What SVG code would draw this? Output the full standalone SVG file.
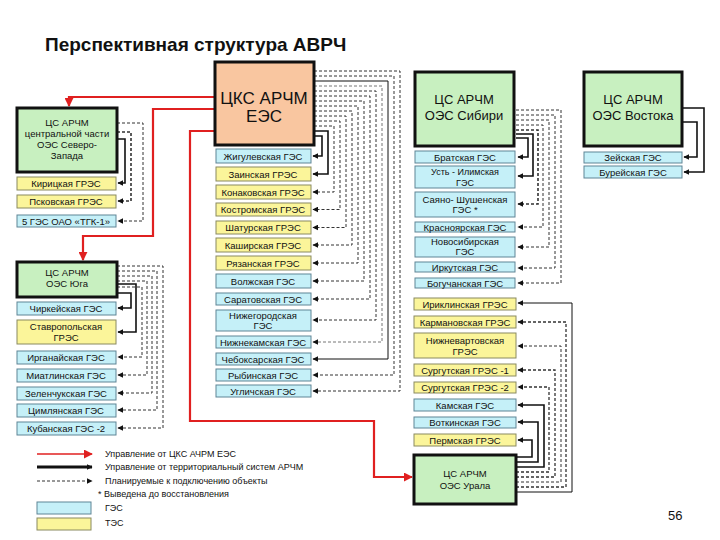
<svg xmlns="http://www.w3.org/2000/svg" width="720" height="540" viewBox="0 0 720 540">
<style>
text{font-family:"Liberation Sans",Arial,sans-serif;fill:#111}
.t{font-size:9.5px;text-anchor:middle}
.p{font-size:12px;text-anchor:middle}
.g{fill:#c5f0f8;stroke:#5f8596;stroke-width:1}
.y{fill:#fbf59a;stroke:#8a8a60;stroke-width:1}
.par{fill:#c8f0c0;stroke:#111;stroke-width:3}
.s{fill:none;stroke:#111;stroke-width:1.6;marker-end:url(#ah)}
.d{fill:none;stroke:#333;stroke-width:1;stroke-dasharray:3 2;marker-end:url(#ah)}
.r{fill:none;stroke:#e02020;stroke-width:2.2;marker-end:url(#ar)}
.lg{font-size:9px}
</style>
<defs>
<marker id="ah" viewBox="0 0 10 10" refX="9" refY="5" markerWidth="6" markerHeight="6" markerUnits="userSpaceOnUse" orient="auto"><path d="M0,0L10,5L0,10z" fill="#111"/></marker>
<marker id="ar" viewBox="0 0 10 10" refX="9" refY="5" markerWidth="9" markerHeight="9" markerUnits="userSpaceOnUse" orient="auto"><path d="M0,0L10,5L0,10z" fill="#e02020"/></marker>
</defs>
<rect width="720" height="540" fill="#fff"/>
<text x="45" y="51" style="font-size:19px;font-weight:bold">Перспективная структура АВРЧ</text>

<g id="connectors">
<path class="r" d="M215,97H69V106"/>
<path class="r" d="M215,109H153V236H83V260"/>
<path class="r" d="M215,131H190V421H374V477H412"/>
<path class="s" d="M314,136H322V156H313"/>
<path class="s" d="M314,131H328V174H313"/>
<path class="d" d="M314,126H334V192H313"/>
<path class="d" d="M314,121H340V209.5H313"/>
<path class="d" d="M314,116H346V227.5H313"/>
<path class="d" d="M314,111H352V245H313"/>
<path class="d" d="M314,106H358V263H313"/>
<path class="d" d="M314,101H364V281H313"/>
<path class="d" d="M314,96H370V299H313"/>
<path class="d" d="M314,91H376V320H313"/>
<path class="d" d="M314,86H382V342H313" style="stroke:#777"/>
<path class="s" d="M314,81H388V359H313" style="stroke-width:1"/>
<path class="d" d="M314,76H394V375H313"/>
<path class="d" d="M314,71H400V391H313"/>
<path class="s" d="M117,139H125V183H118"/>
<path class="d" d="M117,132H131V201H118" style="stroke-width:1.6"/>
<path class="d" d="M117,123H143V221H118"/>
<path class="s" d="M117,293H131V308H118"/>
<path class="s" d="M117,284H136V332H118"/>
<path class="d" d="M117,287H142V357H118"/>
<path class="d" d="M117,281H147V375H118"/>
<path class="d" d="M117,276H152V393H118"/>
<path class="d" d="M117,271H157V410H118"/>
<path class="d" d="M117,266H163V428H118"/>
<path class="s" d="M516,138H528V157H518"/>
<path class="s" d="M516,134H533V176H518"/>
<path class="d" d="M516,130H538V204H518" style="stroke-width:1.6"/>
<path class="d" d="M516,125H543V227H518"/>
<path class="d" d="M516,120H549V247H518"/>
<path class="d" d="M516,115H555V268H518"/>
<path class="d" d="M516,110H561V283H518"/>
<path class="s" d="M682,122H697V157H684"/>
<path class="s" d="M682,108H704V172H684"/>
<path class="s" d="M516,457H532V440H518"/>
<path class="s" d="M516,462H538V422H518"/>
<path class="s" d="M516,467H544V405H518"/>
<path class="d" d="M516,472H549V387H518" style="stroke-width:1.3"/>
<path class="d" d="M516,477H555V370H518" style="stroke-width:1.3"/>
<path class="d" d="M516,482H561V346H518"/>
<path class="d" d="M516,487H566V322H518" style="stroke-width:1.3"/>
<path class="s" d="M516,492H572V303H518" style="stroke-width:1"/>
</g>

<g id="ckc"><rect x="215" y="62" width="99" height="83" fill="#f9c6a0" stroke="#111" stroke-width="3"/><text x="264" y="104" style="font-size:17px;text-anchor:middle">ЦКС АРЧМ</text><text x="264" y="122" style="font-size:17px;text-anchor:middle">ЕЭС</text></g>

<g id="middle">
<g id="m0"><rect class="g" x="216" y="149" width="95" height="14"/><text class="t" x="263" y="160">Жигулевская ГЭС</text></g>
<g id="m1"><rect class="y" x="216" y="167" width="95" height="14"/><text class="t" x="263" y="178">Заинская ГРЭС</text></g>
<g id="m2"><rect class="y" x="216" y="185" width="95" height="14"/><text class="t" x="263" y="196">Конаковская ГРЭС</text></g>
<g id="m3"><rect class="y" x="216" y="203" width="95" height="13"/><text class="t" x="263" y="213">Костромская ГРЭС</text></g>
<g id="m4"><rect class="y" x="216" y="221" width="95" height="13"/><text class="t" x="263" y="231">Шатурская ГРЭС</text></g>
<g id="m5"><rect class="y" x="216" y="238" width="95" height="14"/><text class="t" x="263" y="249">Каширская ГРЭС</text></g>
<g id="m6"><rect class="y" x="216" y="256" width="95" height="14"/><text class="t" x="263" y="267">Рязанская ГРЭС</text></g>
<g id="m7"><rect class="g" x="216" y="274" width="95" height="14"/><text class="t" x="263" y="285">Волжская ГЭС</text></g>
<g id="m8"><rect class="g" x="216" y="293" width="95" height="12"/><text class="t" x="263" y="303">Саратовская ГЭС</text></g>
<g id="m9"><rect class="g" x="216" y="310" width="95" height="21"/><text class="t" x="263" y="319">Нижегородская</text><text class="t" x="263" y="329">ГЭС</text></g>
<g id="m10"><rect class="g" x="216" y="336" width="95" height="12"/><text class="t" x="263" y="346">Нижнекамская ГЭС</text></g>
<g id="m11"><rect class="g" x="216" y="353" width="95" height="12"/><text class="t" x="263" y="363">Чебоксарская ГЭС</text></g>
<g id="m12"><rect class="g" x="216" y="369" width="95" height="12"/><text class="t" x="263" y="379">Рыбинская ГЭС</text></g>
<g id="m13"><rect class="g" x="216" y="385" width="95" height="12"/><text class="t" x="263" y="395">Угличская ГЭС</text></g>
</g>

<g id="nw">
<rect class="par" x="17" y="108" width="100" height="64"/>
<text class="t" x="67" y="126">ЦС АРЧМ</text><text class="t" x="67" y="137">центральной части</text><text class="t" x="67" y="148">ОЭС Северо-</text><text class="t" x="67" y="159">Запада</text>
<g id="nw1"><rect class="y" x="17" y="177" width="99" height="13"/><text class="t" x="66" y="187">Кирицкая ГРЭС</text></g>
<g id="nw2"><rect class="y" x="17" y="195" width="99" height="13"/><text class="t" x="66" y="205">Псковская ГРЭС</text></g>
<g id="nw3"><rect class="g" x="17" y="215" width="99" height="12"/><text class="t" x="66" y="225">5 ГЭС ОАО «ТГК-1»</text></g>
</g>

<g id="south">
<rect class="par" x="17" y="262" width="100" height="35"/>
<text class="t" x="67" y="276">ЦС АРЧМ</text><text class="t" x="67" y="287">ОЭС Юга</text>
<g id="s1"><rect class="g" x="17" y="302" width="99" height="13"/><text class="t" x="66" y="312">Чиркейская ГЭС</text></g>
<g id="s2"><rect class="y" x="17" y="320" width="99" height="24"/><text class="t" x="66" y="330">Ставропольская</text><text class="t" x="66" y="341">ГРЭС</text></g>
<g id="s3"><rect class="g" x="17" y="351" width="99" height="13"/><text class="t" x="66" y="361">Ирганайская ГЭС</text></g>
<g id="s4"><rect class="g" x="17" y="369" width="99" height="13"/><text class="t" x="66" y="379">Миатлинская ГЭС</text></g>
<g id="s5"><rect class="g" x="17" y="387" width="99" height="13"/><text class="t" x="66" y="397">Зеленчукская ГЭС</text></g>
<g id="s6"><rect class="g" x="17" y="404" width="99" height="13"/><text class="t" x="66" y="414">Цимлянская ГЭС</text></g>
<g id="s7"><rect class="g" x="17" y="422" width="99" height="13"/><text class="t" x="66" y="432">Кубанская ГЭС -2</text></g>
</g>

<g id="siberia">
<rect class="par" x="415" y="72" width="99" height="74"/>
<text x="464" y="104" style="font-size:13px;text-anchor:middle">ЦС АРЧМ</text><text x="464" y="120" style="font-size:13px;text-anchor:middle">ОЭС Сибири</text>
<g id="b1"><rect class="g" x="415" y="151" width="100" height="12"/><text class="t" x="465" y="161">Братская ГЭС</text></g>
<g id="b2"><rect class="g" x="415" y="166" width="100" height="22"/><text class="t" x="465" y="175" style="font-size:9px">Усть - Илимская</text><text class="t" x="465" y="186" style="font-size:9px">ГЭС</text></g>
<g id="b3"><rect class="g" x="415" y="192" width="100" height="25"/><text class="t" x="465" y="203">Саяно- Шушенская</text><text class="t" x="465" y="213">ГЭС *</text></g>
<g id="b4"><rect class="g" x="415" y="222" width="100" height="10"/><text class="t" x="465" y="231">Красноярская ГЭС</text></g>
<g id="b5"><rect class="g" x="415" y="237" width="100" height="20"/><text class="t" x="465" y="245">Новосибирская</text><text class="t" x="465" y="255">ГЭС</text></g>
<g id="b6"><rect class="g" x="415" y="262" width="100" height="10"/><text class="t" x="465" y="271">Иркутская ГЭС</text></g>
<g id="b7"><rect class="g" x="415" y="278" width="100" height="10"/><text class="t" x="465" y="287">Богучанская ГЭС</text></g>
</g>

<g id="east">
<rect class="par" x="584" y="72" width="98" height="74"/>
<text x="633" y="104" style="font-size:13px;text-anchor:middle">ЦС АРЧМ</text><text x="633" y="120" style="font-size:13px;text-anchor:middle">ОЭС Востока</text>
<g id="e1"><rect class="g" x="584" y="152" width="98" height="11"/><text class="t" x="633" y="161">Зейская ГЭС</text></g>
<g id="e2"><rect class="g" x="584" y="166" width="98" height="12"/><text class="t" x="633" y="176">Бурейская ГЭС</text></g>
</g>

<g id="ural">
<g id="u1"><rect class="y" x="414" y="298" width="102" height="12"/><text class="t" x="465" y="308">Ириклинская ГРЭС</text></g>
<g id="u2"><rect class="y" x="414" y="316" width="102" height="12"/><text class="t" x="465" y="326">Кармановская ГРЭС</text></g>
<g id="u3"><rect class="y" x="414" y="333" width="102" height="25"/><text class="t" x="465" y="344">Нижневартовская</text><text class="t" x="465" y="355">ГРЭС</text></g>
<g id="u4"><rect class="y" x="414" y="364" width="102" height="12"/><text class="t" x="465" y="374">Сургутская ГРЭС -1</text></g>
<g id="u5"><rect class="y" x="414" y="382" width="102" height="11"/><text class="t" x="465" y="391">Сургутская ГРЭС -2</text></g>
<g id="u6"><rect class="g" x="414" y="399" width="102" height="12"/><text class="t" x="465" y="409">Камская ГЭС</text></g>
<g id="u7"><rect class="g" x="414" y="417" width="102" height="11"/><text class="t" x="465" y="426">Воткинская ГЭС</text></g>
<g id="u8"><rect class="y" x="414" y="434" width="102" height="12"/><text class="t" x="465" y="444">Пермская ГРЭС</text></g>
<rect class="par" x="414" y="455" width="102" height="49"/>
<text class="t" x="465" y="477">ЦС АРЧМ</text><text class="t" x="465" y="489">ОЭС Урала</text>
</g>

<g id="legend">
<line x1="37" y1="454" x2="92" y2="454" style="stroke:#e02020;stroke-width:1.6;marker-end:url(#ar)"/>
<line x1="37" y1="467" x2="92" y2="467" style="stroke:#111;stroke-width:3;marker-end:url(#ah)"/>
<line x1="37" y1="481" x2="92" y2="481" class="d"/>
<text class="lg" x="105" y="457">Управление от ЦКС АЧРМ ЕЭС</text>
<text class="lg" x="105" y="470">Управление от территориальный систем АРЧМ</text>
<text class="lg" x="105" y="484">Планируемые к подключению объекты</text>
<text class="lg" x="98" y="497">* Выведена до восстановления</text>
<rect class="g" x="37" y="502" width="54" height="12"/><text class="lg" x="105" y="511">ГЭС</text>
<rect class="y" x="37" y="518" width="54" height="12"/><text class="lg" x="105" y="526">ТЭС</text>
</g>
<text x="668" y="520" style="font-size:13px">56</text>
</svg>
